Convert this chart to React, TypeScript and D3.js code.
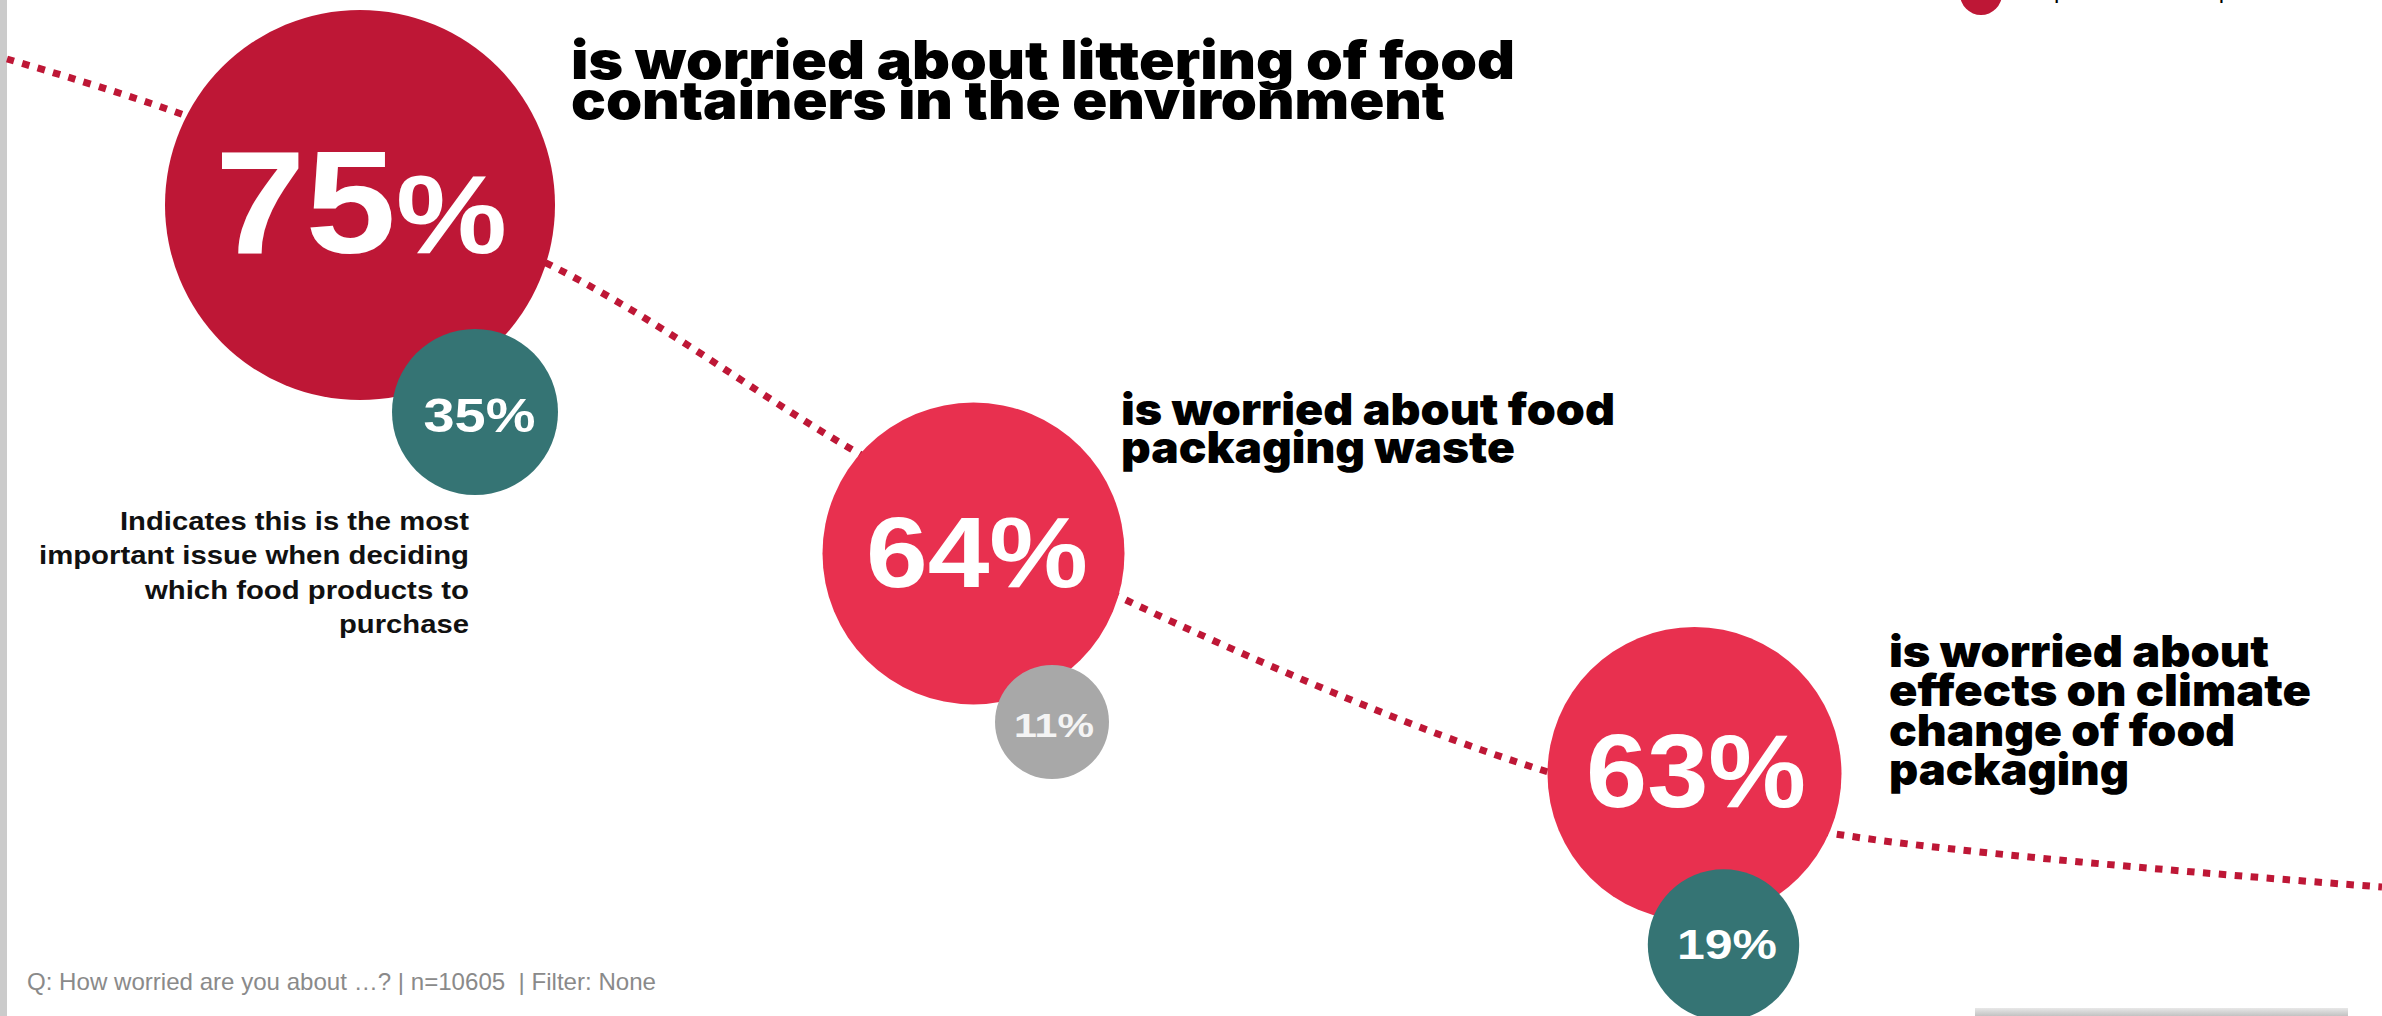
import React from "react";
import * as d3 from "d3";

// ---------- data ----------
const mainValues = [75, 64, 63];
const subValues = [35, 11, 19];
const titles: string[][] = [
  ["is worried about littering of food", "containers in the environment"],
  ["is worried about food", "packaging waste"],
  ["is worried about", "effects on climate", "change of food", "packaging"],
];
const noteLines = [
  "Indicates this is the most",
  "important issue when deciding",
  "which food products to",
  "purchase",
];
const footnote = "Q: How worried are you about …? | n=10605  | Filter: None";
const legendLabel = "Spontaneous response";

// ---------- layout / style ----------
const W = 2382;
const H = 1016;
const mainColors = ["#BE1736", "#E8304F", "#E8304F"];
const subColors = ["#357474", "#A8A8A8", "#357474"];
const subTextColors = ["#FFFFFF", "#F4F4F4", "#FFFFFF"];
const lineColor = "#BE1736";

const bigLayout = [
  { cx: 360, cy: 205, labelX: 361, labelY: 253, numSize: 146, pctSize: 112, labelW: 292 },
  { cx: 973.5, cy: 553.5, labelX: 977, labelY: 587, numSize: 100, pctSize: 100, labelW: 222 },
  { cx: 1694.5, cy: 774, labelX: 1696, labelY: 807, numSize: 103, pctSize: 103, labelW: 220 },
];
const subLayout = [
  { cx: 475, cy: 412, r: 83, labelX: 479.5, labelY: 432, size: 49, labelW: 112 },
  { cx: 1052, cy: 722, r: 57, labelX: 1054, labelY: 737, size: 34, labelW: 80 },
  { cx: 1723.5, cy: 945, r: 75.7, labelX: 1727, labelY: 959, size: 43, labelW: 100 },
];
const titleLayout = [
  { x: 571, y: 79, lh: 40, size: 53, widths: [944, 874] },
  { x: 1121, y: 425, lh: 38, size: 44, widths: [494, 394] },
  { x: 1889, y: 667, lh: 39.3, size: 44, widths: [380, 422, 346, 240] },
];
const noteLayout = { x: 469, y: 530, lh: 34.4, size: 26, widths: [349, 430, 324, 130] };
const trendWaypoints: [number, number][] = [
  [7, 59],
  [184, 115],
  [556, 268],
  [851, 449],
  [1126, 600],
  [1545, 771],
  [1842, 835],
  [2382, 887],
];

const radius = d3.scaleLinear().domain([63, 75]).range([147, 195]);

const titleFont = "Inter, 'Roboto', 'DejaVu Sans', sans-serif";
const bodyFont = "'Liberation Sans', Arial, Helvetica, sans-serif";

export default function App() {
  const trendLine = d3
    .line<[number, number]>()
    .x((d) => d[0])
    .y((d) => d[1])
    .curve(d3.curveCatmullRom.alpha(0.5));

  return (
    <svg
      width={W}
      height={H}
      viewBox={`0 0 ${W} ${H}`}
      style={{ position: "fixed", left: 0, top: 0, background: "#fff" }}
    >
      <defs>
        <linearGradient id="boxShadow" x1="0" y1="0" x2="0" y2="1">
          <stop offset="0" stopColor="#e8e8e8" />
          <stop offset="1" stopColor="#c2c2c2" />
        </linearGradient>
      </defs>
      <rect x={0} y={0} width={W} height={H} fill="#ffffff" />
      <rect x={0} y={0} width={7} height={H} fill="#cbcbcb" />

      {/* trend line */}
      <path
        d={trendLine(trendWaypoints) || ""}
        fill="none"
        stroke={lineColor}
        strokeWidth={7}
        strokeDasharray="7.5 8.5"
      />

      {/* legend (cut off at top) */}
      <circle cx={1981} cy={-6} r={21} fill={mainColors[0]} />
      <text
        x={2038}
        y={-2}
        fontFamily={bodyFont}
        fontSize={22}
        fill="#000"
        textLength={246}
        lengthAdjust="spacingAndGlyphs"
      >
        {legendLabel}
      </text>

      {/* big circles */}
      {mainValues.map((v, i) => {
        const L = bigLayout[i];
        return <circle key={"m" + i} cx={L.cx} cy={L.cy} r={radius(v)} fill={mainColors[i]} />;
      })}
      {mainValues.map((v, i) => {
        const L = bigLayout[i];
        return (
          <text
            key={"mt" + i}
            x={L.labelX}
            y={L.labelY}
            textAnchor="middle"
            fontFamily={bodyFont}
            fontWeight={700}
            fill="#fff"
            textLength={L.labelW}
            lengthAdjust="spacingAndGlyphs"
          >
            <tspan fontSize={L.numSize}>{String(v)}</tspan>
            <tspan fontSize={L.pctSize}>%</tspan>
          </text>
        );
      })}

      {/* small circles */}
      {subValues.map((v, i) => {
        const L = subLayout[i];
        return (
          <g key={"s" + i}>
            <circle cx={L.cx} cy={L.cy} r={L.r} fill={subColors[i]} />
            <text
              x={L.labelX}
              y={L.labelY}
              textAnchor="middle"
              fontFamily={bodyFont}
              fontWeight={700}
              fontSize={L.size}
              fill={subTextColors[i]}
              textLength={L.labelW}
              lengthAdjust="spacingAndGlyphs"
            >
              {v + "%"}
            </text>
          </g>
        );
      })}

      {/* titles */}
      {titles.map((lines, i) => {
        const T = titleLayout[i];
        return (
          <g key={"t" + i}>
            {lines.map((ln, j) => (
              <text
                key={j}
                x={T.x}
                y={T.y + j * T.lh}
                fontFamily={titleFont}
                fontWeight={900}
                fontSize={T.size}
                fill="#000"
                textLength={T.widths[j]}
                lengthAdjust="spacingAndGlyphs"
              >
                {ln}
              </text>
            ))}
          </g>
        );
      })}

      {/* note under first sub circle */}
      {noteLines.map((ln, j) => (
        <text
          key={"n" + j}
          x={noteLayout.x}
          y={noteLayout.y + j * noteLayout.lh}
          textAnchor="end"
          fontFamily={bodyFont}
          fontWeight={700}
          fontSize={noteLayout.size}
          fill="#111"
          textLength={noteLayout.widths[j]}
          lengthAdjust="spacingAndGlyphs"
        >
          {ln}
        </text>
      ))}

      {/* footnote */}
      <text
        x={27}
        y={990}
        fontFamily={bodyFont}
        fontSize={24}
        fill="#8a8a8a"
        style={{ whiteSpace: "pre" }}
        textLength={629}
        lengthAdjust="spacingAndGlyphs"
      >
        {footnote}
      </text>

      {/* bottom-right box edge */}
      <rect x={1975} y={1008} width={373} height={8} fill="url(#boxShadow)" />
    </svg>
  );
}
